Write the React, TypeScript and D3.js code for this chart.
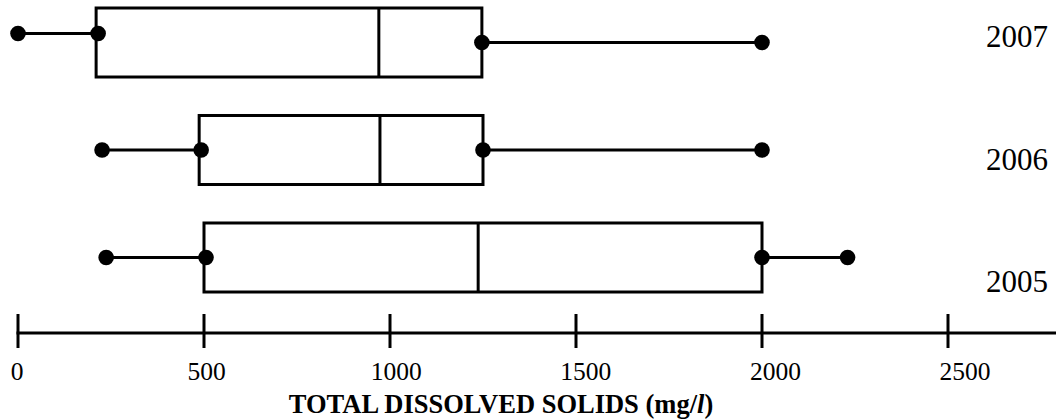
import { useEffect } from 'react'
import * as d3 from 'd3'

// total dissolved solids, mg/l
const years = ['2007', '2006', '2005']
const mins = [0, 226, 237]
const q1s = [210, 487, 500]
const medians = [970, 973, 1237]
const q3s = [1247, 1250, 2000]
const maxs = [2000, 2000, 2230]
const ticks = [0, 500, 1000, 1500, 2000, 2500]

const W = 1056, H = 420
const FONT = '"Liberation Serif", "Times New Roman", serif'

export default function App() {
  useEffect(() => {
    document.body.style.margin = '0'
  }, [])

  const x = d3.scaleLinear().domain([0, 2500]).range([18, 948])
  // tick labels in the original drift slightly right of their ticks
  const xLabel = d3.scaleLinear().domain([0, 2500]).range([17, 965])
  const y = d3.scaleBand().domain(years).range([8, 292]).paddingInner(0.358).paddingOuter(0)
  const yLabel = d3.scalePoint().domain(years).range([47, 292])
  const axisY = 333
  const bw = y.bandwidth()

  const rows = years.map((yr, i) => ({
    year: yr, min: mins[i], q1: q1s[i], median: medians[i], q3: q3s[i], max: maxs[i]
  }))

  return (
    <svg width={W} height={H} style={{ display: 'block', background: '#fff' }} fontFamily={FONT}>
      {rows.map(d => {
        const top = y(d.year)!
        const cy = top + bw / 2
        // the lower whisker of 2007 sits a little high in the original
        const lowY = d.year === '2007' ? cy - 9 : cy
        return (
          <g key={d.year}>
            <line x1={x(d.min)} x2={x(d.q1)} y1={lowY} y2={lowY} stroke="#000" strokeWidth={3} />
            <line x1={x(d.q3)} x2={x(d.max)} y1={cy} y2={cy} stroke="#000" strokeWidth={3} />
            <rect x={x(d.q1)} y={top} width={x(d.q3) - x(d.q1)} height={bw}
              fill="none" stroke="#000" strokeWidth={3} />
            <line x1={x(d.median)} x2={x(d.median)} y1={top} y2={top + bw} stroke="#000" strokeWidth={3} />
            <circle cx={x(d.min)} cy={lowY} r={7.8} fill="#000" />
            <circle cx={x(d.q1) + 2} cy={lowY} r={7.8} fill="#000" />
            <circle cx={x(d.q3)} cy={cy} r={7.8} fill="#000" />
            <circle cx={x(d.max)} cy={cy} r={7.8} fill="#000" />
            <text x={1048} y={yLabel(d.year)} textAnchor="end" fontSize={31} fill="#000">{d.year}</text>
          </g>
        )
      })}

      {/* axis */}
      <line x1={x(0) - 1.5} x2={W} y1={axisY} y2={axisY} stroke="#000" strokeWidth={3} />
      {ticks.map(t => (
        <g key={t}>
          <line x1={x(t)} x2={x(t)} y1={axisY - 19} y2={axisY + 15} stroke="#000" strokeWidth={3} />
          <text x={xLabel(t)} y={380} textAnchor="middle" fontSize={25.5} fill="#000">{t}</text>
        </g>
      ))}

      <text x={501} y={413} textAnchor="middle" fontSize={26.5} fontWeight="bold" fill="#000">
        TOTAL DISSOLVED SOLIDS (mg/<tspan fontStyle="italic">l</tspan>)
      </text>
    </svg>
  )
}
